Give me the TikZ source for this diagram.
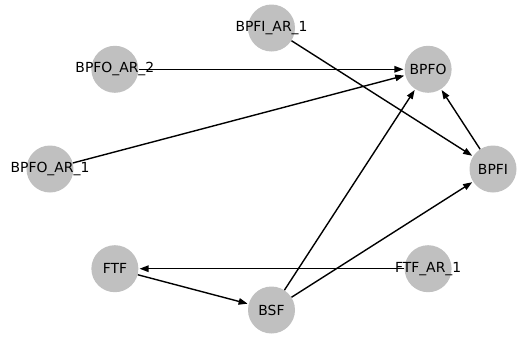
\documentclass[tikz,border=0pt]{standalone}
\usepackage{fontspec}
\setmainfont{DejaVu Sans}
\usetikzlibrary{arrows.meta}
\definecolor{nodegray}{HTML}{C0C0C0}

\begin{document}
\begin{tikzpicture}[
    vertex/.style={
      circle, fill=nodegray, minimum size=47pt, inner sep=0pt
    },
    every label/.style={
      font=\fontsize{13.9pt}{16pt}\selectfont, inner sep=0pt
    },
    arrowtip/.style={
      -{Triangle[length=9pt,width=6.5pt]}, line width=1.4pt, shorten >=1pt
    }
  ]
    \useasboundingbox (-271.5pt,-169pt) rectangle (260.5pt,169pt);

    \node[vertex, label=center:BPFI] (bpfi) at (0:221.5pt and 141pt) {};
    \node[vertex, label=center:BPFO] (bpfo) at (45:221.5pt and 141pt) {};
    \node[vertex, label=center:BPFI\_AR\_1] (bpfiar) at (90:221.5pt and 141pt) {};
    \node[vertex, label=center:BPFO\_AR\_2] (bpfoartwo) at (135:221.5pt and 141pt) {};
    \node[vertex, label=center:BPFO\_AR\_1] (bpfoarone) at (180:221.5pt and 141pt) {};
    \node[vertex, label=center:FTF] (ftf) at (225:221.5pt and 141pt) {};
    \node[vertex, label=center:BSF] (bsf) at (270:221.5pt and 141pt) {};
    \node[vertex, label=center:FTF\_AR\_1] (ftfar) at (315:221.5pt and 141pt) {};

    \draw[arrowtip] (bpfoartwo) -- (bpfo);
    \draw[arrowtip] (bpfoarone) -- (bpfo);
    \draw[arrowtip] (bpfiar) -- (bpfi);
    \draw[arrowtip] (bpfi) -- (bpfo);
    \draw[arrowtip] (bsf) -- (bpfo);
    \draw[arrowtip] (bsf) -- (bpfi);
    \draw[arrowtip] (ftfar) -- (ftf);
    \draw[arrowtip] (ftf) -- (bsf);
  \end{tikzpicture}
\end{document}
